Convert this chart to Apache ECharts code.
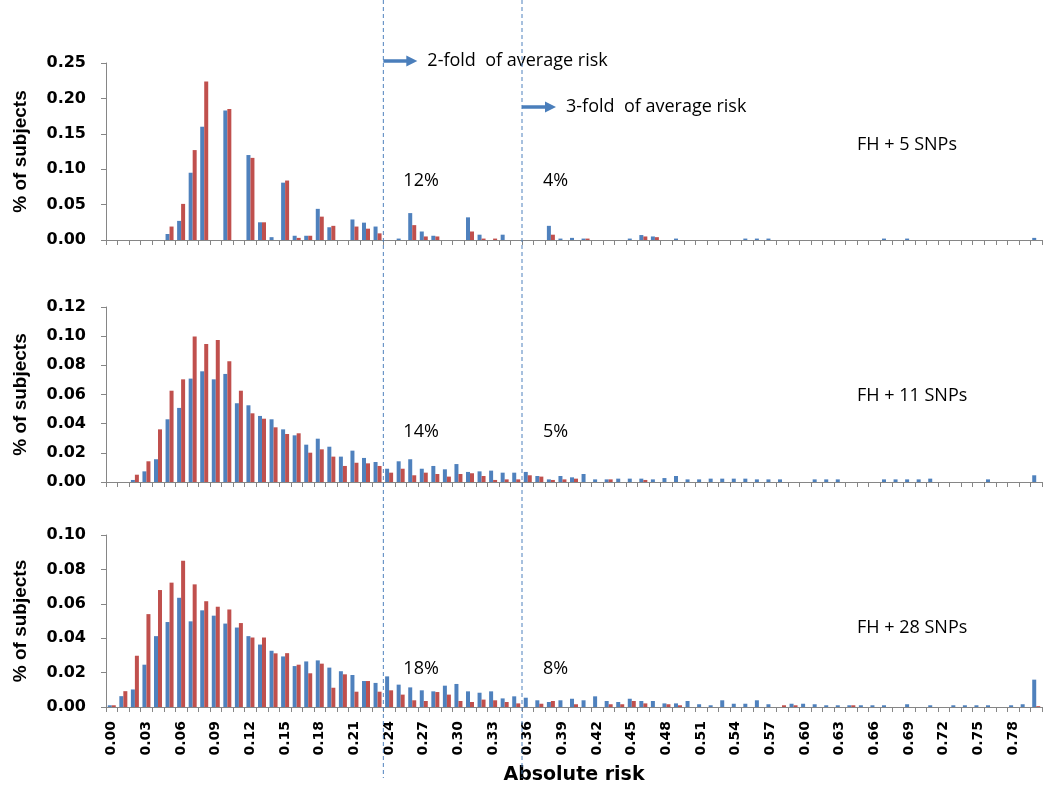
<!DOCTYPE html>
<html>
<head>
<meta charset="utf-8">
<script src="https://cdn.jsdelivr.net/npm/echarts@6/dist/echarts.min.js"></script>
<style>
html,body{margin:0;padding:0;background:#fff;}
#chart{width:1050px;height:790px;}
</style>
</head>
<body>
<div id="chart"></div>
<script>
// ---------- DATA ----------
const categories = ['0.00','0.01','0.02','0.03','0.04','0.05','0.06','0.07','0.08','0.09',
'0.10','0.11','0.12','0.13','0.14','0.15','0.16','0.17','0.18','0.19',
'0.20','0.21','0.22','0.23','0.24','0.25','0.26','0.27','0.28','0.29',
'0.30','0.31','0.32','0.33','0.34','0.35','0.36','0.37','0.38','0.39',
'0.40','0.41','0.42','0.43','0.44','0.45','0.46','0.47','0.48','0.49',
'0.50','0.51','0.52','0.53','0.54','0.55','0.56','0.57','0.58','0.59',
'0.60','0.61','0.62','0.63','0.64','0.65','0.66','0.67','0.68','0.69',
'0.70','0.71','0.72','0.73','0.74','0.75','0.76','0.77','0.78','0.79','0.80'];

// FH + 5 SNPs
const blue5 = [0,0,0,0,0,0.0085,0.027,0.095,0.160,0,
0.183,0,0.120,0.025,0.004,0.081,0.006,0.006,0.044,0.018,
0,0.029,0.0245,0.019,0,0.002,0.038,0.012,0.006,0,
0,0.032,0.0075,0,0.0075,0,0,0,0.020,0.002,
0.003,0.002,0,0,0,0.002,0.007,0.005,0,0.002,
0,0,0,0,0,0.002,0.002,0.002,0,0,
0,0,0,0,0,0,0,0.002,0,0.002,
0,0,0,0,0,0,0,0,0,0,0.003];
const red5 = [0,0,0,0,0,0.019,0.051,0.127,0.224,0,
0.185,0,0.116,0.025,0,0.084,0.003,0.006,0.033,0.020,
0,0.019,0.016,0.0094,0,0,0.021,0.005,0.005,0,
0,0.012,0.002,0.002,0,0,0,0,0.0075,0,
0,0.002,0,0,0,0,0.005,0.004,0,0,
0,0,0,0,0,0,0,0,0,0,
0,0,0,0,0,0,0,0,0,0,
0,0,0,0,0,0,0,0,0,0,0];

// FH + 11 SNPs
const blue11 = [0,0,0.0014,0.0073,0.0156,0.043,0.0508,0.0709,0.0759,0.0704,
0.0741,0.054,0.0526,0.0453,0.043,0.0361,0.032,0.0256,0.0297,0.0242,
0.0174,0.0215,0.0165,0.0137,0.0091,0.0142,0.0156,0.0091,0.011,0.0087,
0.0123,0.0069,0.0073,0.0078,0.0064,0.0064,0.0069,0.0041,0.0018,0.0041,
0.0032,0.0055,0.0018,0.0018,0.0023,0.0023,0.0023,0.0018,0.0027,0.0041,
0.0018,0.0018,0.0023,0.0023,0.0023,0.0023,0.0018,0.0018,0.0018,0,
0,0.0018,0.0018,0.0018,0,0,0,0.0018,0.0018,0.0018,
0.0018,0.0023,0,0,0,0,0.0018,0,0,0,0.0046];
const red11 = [0,0,0.005,0.0142,0.0361,0.0626,0.0704,0.0997,0.0946,0.0974,
0.0828,0.0626,0.0471,0.0434,0.0375,0.0329,0.0334,0.0201,0.0224,0.0174,
0.011,0.0132,0.0128,0.011,0.0064,0.0091,0.0046,0.0064,0.0055,0.0037,
0.0055,0.006,0.0041,0.0014,0.0018,0.0018,0.0046,0.0037,0.0014,0.0018,
0.0023,0,0,0.0018,0,0,0.0014,0,0,0,
0,0,0,0,0,0,0,0,0,0,
0,0,0,0,0,0,0,0,0,0,
0,0,0,0,0,0,0,0,0,0,0];

// FH + 28 SNPs
const blue28 = [0.001,0.0063,0.0102,0.0246,0.0412,0.0494,0.0635,0.0498,0.0562,0.0531,
0.0485,0.0462,0.0412,0.0363,0.0327,0.0294,0.0238,0.0265,0.0271,0.0229,
0.0208,0.0186,0.0151,0.014,0.0178,0.013,0.0114,0.0097,0.0091,0.0124,
0.0134,0.0091,0.0083,0.0091,0.005,0.0062,0.0054,0.0039,0.0029,0.0039,
0.0048,0.0039,0.0062,0.0035,0.0029,0.0048,0.0035,0.0035,0.0021,0.0021,
0.0035,0.0016,0.001,0.0039,0.0019,0.0019,0.0039,0.0016,0,0.0019,
0.0019,0.0016,0.001,0.001,0.001,0.001,0.001,0.001,0,0.0016,
0,0.001,0,0.001,0.001,0.001,0.001,0,0.001,0.0016,0.0159];
const red28 = [0.001,0.0092,0.0298,0.054,0.068,0.0723,0.085,0.0713,0.0615,0.0583,
0.0567,0.0488,0.0404,0.0404,0.0312,0.0313,0.0246,0.0196,0.0252,0.0112,
0.019,0.0089,0.0151,0.0089,0.0097,0.0072,0.0039,0.0035,0.0087,0.0072,
0.0035,0.0029,0.0043,0.0039,0.0029,0.0021,0,0.0019,0.0035,0,
0.0016,0,0,0.0016,0.0016,0.0035,0.0021,0,0.0016,0.001,
0,0,0,0,0,0,0,0,0.001,0.001,
0,0,0,0,0.001,0,0,0,0,0,
0,0,0,0,0,0,0,0,0,0,0.0005];

const panelLabels = ['FH + 5 SNPs', 'FH + 11 SNPs', 'FH + 28 SNPs'];
const yMax = [0.25, 0.12, 0.10];
const yStep = [0.05, 0.02, 0.02];
const foldThresholds = ['0.24', '0.36'];
const foldLabels = ['2-fold  of average risk', '3-fold  of average risk'];
const pctAbove2fold = ['12%', '14%', '18%'];
const pctAbove3fold = ['4%', '5%', '8%'];
const yAxisTitle = '% of subjects';
const xAxisTitle = 'Absolute risk';

// ---------- CHART ----------
const BLUE = '#4F81BD', RED = '#C0504D', AXIS = '#868686';
const gridTops = [63, 307, 535];
const gridHeights = [177, 175, 172];
const blues = [blue5, blue11, blue28];
const reds = [red5, red11, red28];

const chart = echarts.init(document.getElementById('chart'), null, {renderer: 'canvas'});

const grids = [], xAxes = [], yAxes = [], series = [];
for (let p = 0; p < 3; p++) {
  grids.push({left: 106, right: 8, top: gridTops[p], height: gridHeights[p], containLabel: false});
  const isBottom = p === 2;
  xAxes.push({
    type: 'category', gridIndex: p, data: categories, boundaryGap: true,
    axisLine: {show: true, lineStyle: {color: AXIS, width: 1}},
    axisTick: {show: true, interval: 0, length: 5, alignWithLabel: false, lineStyle: {color: AXIS}},
    axisLabel: {show: isBottom, interval: 2, rotate: 90, margin: 14,
      fontFamily: 'DejaVu Sans', fontWeight: 'bold', fontSize: 14, color: '#000'},
    name: isBottom ? xAxisTitle : '', nameLocation: 'middle', nameGap: 59,
    nameTextStyle: {fontFamily: 'DejaVu Sans', fontWeight: 'bold', fontSize: 19, color: '#000'},
    splitLine: {show: false}
  });
  yAxes.push({
    type: 'value', gridIndex: p, min: 0, max: yMax[p], interval: yStep[p],
    axisLine: {show: true, lineStyle: {color: AXIS, width: 1}},
    axisTick: {show: true, length: 5, lineStyle: {color: AXIS}},
    axisLabel: {formatter: v => v.toFixed(2), margin: 20,
      fontFamily: 'DejaVu Sans', fontWeight: 'bold', fontSize: 16, color: '#000'},
    splitLine: {show: false},
    name: yAxisTitle, nameLocation: 'middle', nameGap: 76, nameRotate: 90,
    nameTextStyle: {fontFamily: 'Liberation Sans', fontWeight: 'bold', fontSize: 19, color: '#000'}
  });
  series.push({type: 'bar', name: 'Series 1', xAxisIndex: p, yAxisIndex: p, data: blues[p],
    barWidth: 4, barGap: '0%', itemStyle: {color: BLUE}});
  series.push({type: 'bar', name: 'Series 2', xAxisIndex: p, yAxisIndex: p, data: reds[p],
    barWidth: 4, barGap: '0%', itemStyle: {color: RED}});
}

chart.setOption({
  animation: false,
  backgroundColor: '#fff',
  grid: grids, xAxis: xAxes, yAxis: yAxes, series: series
});

// ---------- ANNOTATIONS (positions from the library's own axis) ----------
function boundaryX(cat) {
  const i = categories.indexOf(cat);
  const a = chart.convertToPixel({xAxisIndex: 0}, categories[i - 1]);
  const b = chart.convertToPixel({xAxisIndex: 0}, categories[i]);
  return (a + b) / 2;
}
const bx = foldThresholds.map(boundaryX);
const textFont = {fontFamily: 'Open Sans', fontSize: 18, fontWeight: 500, fill: '#000'};
const graphic = [];
const arrowY = [61, 107];
bx.forEach((x, k) => {
  graphic.push({type: 'line', silent: true, shape: {x1: x, y1: 0, x2: x, y2: 778},
    style: {stroke: '#4F81BD', lineWidth: 1, lineDash: [4, 3]}, z: 10});
  graphic.push({type: 'line', silent: true, shape: {x1: x, y1: arrowY[k], x2: x + 24, y2: arrowY[k]},
    style: {stroke: '#4A7EBB', lineWidth: 3.5}, z: 10});
  graphic.push({type: 'polygon', silent: true,
    shape: {points: [[x + 23, arrowY[k] - 5.5], [x + 34, arrowY[k]], [x + 23, arrowY[k] + 5.5]]},
    style: {fill: '#4A7EBB'}, z: 10});
  graphic.push({type: 'text', silent: true, x: x + 44, y: arrowY[k],
    style: Object.assign({text: foldLabels[k], textVerticalAlign: 'middle', textAlign: 'left'}, textFont), z: 10});
});
const pctY = [181, 432, 669];
const panelLabelY = [145, 396, 628];
for (let p = 0; p < 3; p++) {
  graphic.push({type: 'text', silent: true, x: bx[0] + 20, y: pctY[p],
    style: Object.assign({text: pctAbove2fold[p], textVerticalAlign: 'middle', textAlign: 'left'}, textFont), z: 10});
  graphic.push({type: 'text', silent: true, x: bx[1] + 21, y: pctY[p],
    style: Object.assign({text: pctAbove3fold[p], textVerticalAlign: 'middle', textAlign: 'left'}, textFont), z: 10});
  graphic.push({type: 'text', silent: true, x: 857, y: panelLabelY[p],
    style: Object.assign({text: panelLabels[p], textVerticalAlign: 'middle', textAlign: 'left'}, textFont), z: 10});
}
chart.setOption({graphic: graphic});
</script>
</body>
</html>
